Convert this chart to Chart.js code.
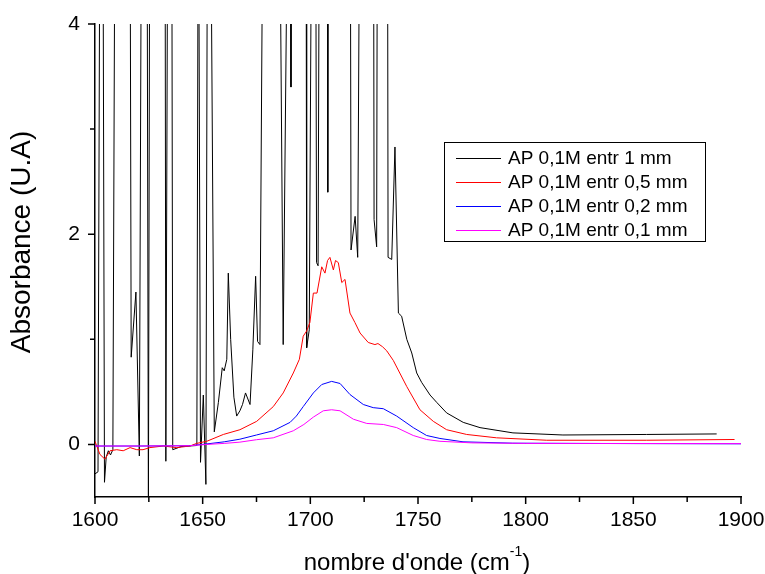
<!DOCTYPE html>
<html lang="fr">
<head>
<meta charset="UTF-8">
<title>Absorbance - nombre d'onde</title>
<script src="https://cdn.jsdelivr.net/npm/chart.js"></script>
<style>
  html, body { margin: 0; padding: 0; background: #fff; }
  #wrap { width: 765px; height: 574px; }
</style>
</head>
<body>
<div id="wrap"><canvas id="chart" width="765" height="574"></canvas></div>
<script>
// AP 0,1M entr 1 mm (saturated: 6 = off the top of the scale)
const wn1 = [1600.0, 1601.4, 1602.4, 1603.6, 1604.4, 1605.2, 1606.2, 1607.2, 1608.3, 1609.4,
  1616.2, 1616.8, 1619.0, 1620.6, 1621.7, 1624.1, 1624.8, 1625.5, 1632.5, 1632.9,
  1633.9, 1635.6, 1636.1, 1640.0, 1647.3, 1648.0, 1649.0, 1650.3, 1651.5, 1652.3,
  1653.5, 1655.4, 1657.3, 1659.1, 1660.0, 1661.2, 1661.9, 1663.0, 1664.5, 1665.8,
  1667.3, 1668.5, 1669.9, 1672.0, 1673.3, 1674.6, 1675.5, 1676.6, 1678.2, 1685.5,
  1687.4, 1689.8, 1690.8, 1691.0, 1691.3, 1698.0, 1698.3, 1699.5, 1700.8, 1702.4,
  1702.9, 1703.6, 1704.3, 1707.8, 1708.1, 1708.4, 1718.5, 1718.9, 1720.8, 1722.0,
  1723.1, 1729.3, 1729.6, 1730.8, 1731.2, 1735.8, 1736.1, 1737.8, 1739.3, 1740.9,
  1742.4, 1744.8, 1747.1, 1749.4, 1751.7, 1755.6, 1758.7, 1763.3, 1771.0, 1778.8,
  1794.1, 1817.3, 1856.2, 1888.7];
const abs1 = [-0.28, -0.26, 6, 6, -0.36, -0.12, -0.06, -0.10, -0.05, 6,
  6, 0.83, 1.45, -0.11, 6, 6, -0.7, 6, 6, -0.16,
  6, 6, -0.05, -0.02, -0.01, 6, -0.17, 0.47, -0.38, 6,
  6, 0.12, 0.40, 0.73, 0.70, 0.81, 1.63, 1.0, 0.45, 0.27,
  0.32, 0.38, 0.49, 0.38, 0.9, 1.60, 0.98, 0.95, 6, 6,
  0.95, 6, 6, 3.4, 6, 6, 0.92, 1.09, 6, 6,
  1.73, 1.70, 6, 6, 2.40, 6, 6, 1.85, 2.17, 1.78,
  6, 6, 2.14, 1.88, 6, 6, 1.78, 1.76, 2.83, 1.25,
  1.22, 1.00, 0.87, 0.68, 0.59, 0.47, 0.40, 0.30, 0.21, 0.16,
  0.11, 0.09, 0.095, 0.10];

// AP 0,1M entr 0,5 mm
const wn05 = [1600, 1602.3, 1604.6, 1607, 1610.1, 1613.1, 1616.3, 1619.4, 1622.3, 1625.5,
  1631.7, 1637.9, 1644.1, 1647.2, 1651.9, 1659.6, 1667.3, 1675.1, 1682.8, 1687.4,
  1692.1, 1694.9, 1696.7, 1698.3, 1699.8, 1701.4, 1703.1, 1705.3, 1706.8, 1708,
  1709.1, 1710.7, 1711.7, 1713, 1714.6, 1716.1, 1718.4, 1720.7, 1723.1, 1726.9,
  1730, 1731.4, 1733.5, 1735.5, 1738.5, 1744.8, 1750.9, 1757.1, 1763.3, 1772.6,
  1786.5, 1809.8, 1856, 1897];
const abs05 = [0.03, -0.095, -0.14, -0.06, -0.05, -0.06, -0.03, -0.05, -0.05, -0.03,
  -0.015, -0.03, -0.015, 0.01, 0.03, 0.095, 0.14, 0.22, 0.36, 0.49,
  0.68, 0.81, 1.03, 1.08, 1.16, 1.44, 1.44, 1.69, 1.63, 1.75,
  1.78, 1.66, 1.75, 1.73, 1.54, 1.57, 1.25, 1.16, 1.06, 0.97,
  0.95, 0.96, 0.93, 0.89, 0.80, 0.55, 0.33, 0.22, 0.14, 0.095,
  0.063, 0.04, 0.04, 0.047];

// AP 0,1M entr 0,2 mm
const wn02 = [1600, 1620, 1644, 1652, 1660, 1667.3, 1675, 1682.8, 1690.6, 1693.5,
  1696.7, 1701.4, 1705.3, 1709.9, 1713.8, 1718.4, 1724.6, 1729.2, 1733.9, 1740.1,
  1747.8, 1754, 1760.2, 1770.9, 1794, 1850, 1900];
const abs02 = [-0.015, -0.015, -0.012, 0.005, 0.025, 0.05, 0.09, 0.13, 0.21, 0.27,
  0.36, 0.49, 0.57, 0.60, 0.58, 0.475, 0.38, 0.35, 0.34, 0.27,
  0.16, 0.085, 0.057, 0.025, 0.012, 0.008, 0.006];

// AP 0,1M entr 0,1 mm
const wn01 = [1600, 1620, 1644, 1652, 1660, 1667.3, 1675, 1682.8, 1692.1, 1697,
  1701.4, 1706, 1709.9, 1713.8, 1720, 1726.2, 1733.9, 1740.1, 1747.8, 1754,
  1760.2, 1775, 1800, 1900];
const abs01 = [-0.015, -0.015, -0.012, 0.0, 0.01, 0.022, 0.045, 0.063, 0.13, 0.19,
  0.26, 0.32, 0.33, 0.32, 0.24, 0.20, 0.19, 0.16, 0.085, 0.047,
  0.03, 0.015, 0.01, 0.008];

const seriesLabels = ['AP 0,1M entr 1 mm', 'AP 0,1M entr 0,5 mm', 'AP 0,1M entr 0,2 mm', 'AP 0,1M entr 0,1 mm'];
const seriesColors = ['#000000', '#ff0000', '#0000ff', '#ff00ff'];

const xMajor = [1600, 1650, 1700, 1750, 1800, 1850, 1900];
const xMinor = [1625, 1675, 1725, 1775, 1825, 1875];
const yMajor = [0, 2, 4];
const yMinor = [1, 3];

const FONT = "'Liberation Sans', Arial, sans-serif";

function pairs(xs, ys) {
  return xs.map((x, i) => ({ x: x, y: ys[i] }));
}

// tick marks outside the axes, long for major, short for minor
const axisTicks = {
  id: 'axisTicks',
  afterDraw(chart) {
    const { ctx, chartArea: a, scales: { x, y } } = chart;
    ctx.save();
    ctx.strokeStyle = '#000';
    ctx.lineWidth = 1.5;
    ctx.beginPath();
    xMajor.forEach(v => { const p = x.getPixelForValue(v); ctx.moveTo(p, a.bottom); ctx.lineTo(p, a.bottom + 7); });
    xMinor.forEach(v => { const p = x.getPixelForValue(v); ctx.moveTo(p, a.bottom); ctx.lineTo(p, a.bottom + 5); });
    yMajor.forEach(v => { const p = y.getPixelForValue(v); ctx.moveTo(a.left, p); ctx.lineTo(a.left - 7, p); });
    yMinor.forEach(v => { const p = y.getPixelForValue(v); ctx.moveTo(a.left, p); ctx.lineTo(a.left - 5, p); });
    ctx.stroke();
    ctx.restore();
  }
};

// axis titles (x title has the superscript in cm-1)
const axisTitles = {
  id: 'axisTitles',
  afterDraw(chart) {
    const ctx = chart.ctx;
    ctx.save();
    ctx.fillStyle = '#000';
    ctx.textBaseline = 'alphabetic';

    const main = "nombre d'onde (cm";
    const sup = '-1';
    const close = ')';
    ctx.font = '24px ' + FONT;
    const w1 = ctx.measureText(main).width;
    const w3 = ctx.measureText(close).width;
    ctx.font = '14px ' + FONT;
    const w2 = ctx.measureText(sup).width;
    let x0 = 417 - (w1 + w2 + w3) / 2;
    ctx.font = '24px ' + FONT;
    ctx.textAlign = 'left';
    ctx.fillText(main, x0, 570);
    ctx.font = '14px ' + FONT;
    ctx.fillText(sup, x0 + w1, 556);
    ctx.font = '24px ' + FONT;
    ctx.fillText(close, x0 + w1 + w2, 570);

    ctx.translate(22, 242);
    ctx.rotate(-Math.PI / 2);
    ctx.textAlign = 'center';
    ctx.textBaseline = 'middle';
    ctx.font = '28px ' + FONT;
    ctx.fillText('Absorbance (U.A)', 0, 0);
    ctx.restore();
  }
};

// boxed legend inside the plot
const boxLegend = {
  id: 'boxLegend',
  afterDraw(chart) {
    const ctx = chart.ctx;
    ctx.save();
    ctx.strokeStyle = '#000';
    ctx.lineWidth = 1;
    ctx.strokeRect(444.5, 142.5, 261, 99);
    ctx.font = '19px ' + FONT;
    ctx.textAlign = 'left';
    ctx.textBaseline = 'middle';
    chart.data.datasets.forEach((ds, i) => {
      const yy = 158.5 + i * 24;
      ctx.strokeStyle = ds.borderColor;
      ctx.beginPath();
      ctx.moveTo(456, yy);
      ctx.lineTo(501, yy);
      ctx.stroke();
      ctx.fillStyle = '#000';
      ctx.fillText(ds.label, 508, yy);
    });
    ctx.restore();
  }
};

const allX = [wn1, wn05, wn02, wn01];
const allY = [abs1, abs05, abs02, abs01];

new Chart(document.getElementById('chart'), {
  type: 'line',
  data: {
    datasets: seriesLabels.map((label, i) => ({
      label: label,
      data: pairs(allX[i], allY[i]),
      borderColor: seriesColors[i],
      borderWidth: 1,
      pointRadius: 0,
      tension: 0,
      fill: false,
      order: 3 - i
    }))
  },
  options: {
    responsive: false,
    animation: false,
    devicePixelRatio: 1,
    layout: { autoPadding: false, padding: { left: 0, right: 24, top: 24, bottom: 0 } },
    plugins: {
      legend: { display: false },
      tooltip: { enabled: false }
    },
    scales: {
      x: {
        type: 'linear',
        min: 1600,
        max: 1900,
        afterBuildTicks: s => { s.ticks = xMajor.map(v => ({ value: v })); },
        afterFit: s => {
          s.height = 77;
          s.paddingLeft = 0;
          s.paddingRight = 0;
        },
        grid: { display: false, drawTicks: false },
        border: { display: true, color: '#000', width: 1.5 },
        ticks: {
          color: '#000',
          padding: 11,
          maxRotation: 0,
          font: { family: FONT, size: 21 },
          callback: v => String(v)
        }
      },
      y: {
        min: -0.5,
        max: 4,
        afterBuildTicks: s => { s.ticks = yMajor.map(v => ({ value: v })); },
        afterFit: s => {
          s.width = 95;
          s.paddingTop = 0;
          s.paddingBottom = 0;
        },
        grid: { display: false, drawTicks: false },
        border: { display: true, color: '#000', width: 1.5 },
        ticks: {
          color: '#000',
          padding: 15,
          font: { family: FONT, size: 21 },
          callback: v => String(v)
        }
      }
    }
  },
  plugins: [axisTicks, axisTitles, boxLegend]
});
</script>
</body>
</html>
